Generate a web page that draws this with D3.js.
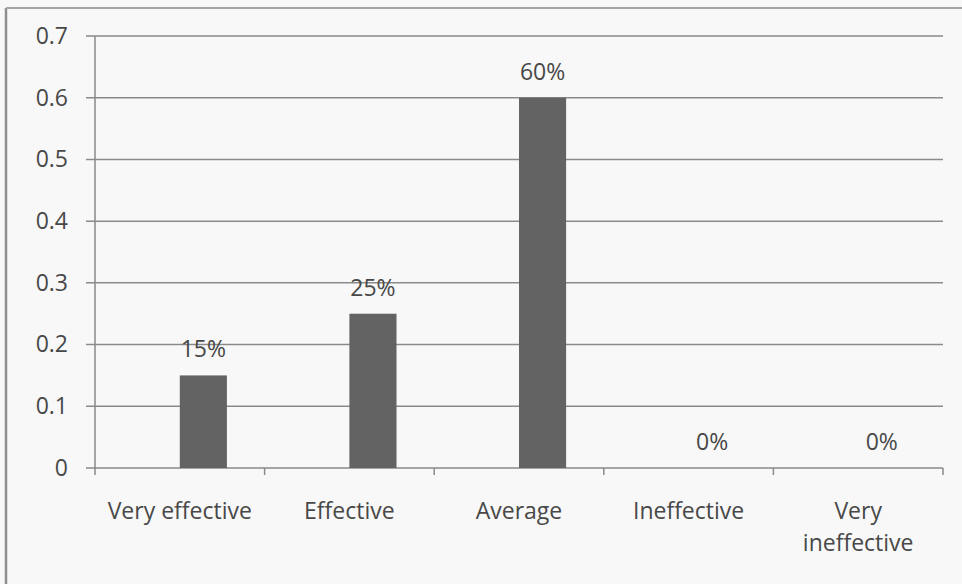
<!DOCTYPE html>
<html>
<head>
<meta charset="utf-8">
<script src="https://cdn.jsdelivr.net/npm/d3@7/dist/d3.min.js"></script>
<style>
  html, body { margin: 0; padding: 0; background: #f8f8f8; }
  svg { display: block; }
  text { font-family: "Open Sans", sans-serif; fill: #484848; }
</style>
</head>
<body>
<svg id="chart" width="962" height="584"></svg>
<script>
// Perceived effectiveness: share of respondents per rating
const categories = ["Very effective", "Effective", "Average", "Ineffective", "Very ineffective"];
const shares = [0.15, 0.25, 0.60, 0, 0];
const shareLabels = ["15%", "25%", "60%", "0%", "0%"];
const yTicks = [0, 0.1, 0.2, 0.3, 0.4, 0.5, 0.6, 0.7];

const W = 962, H = 584;
const plot = { left: 95, right: 943, top: 36, bottom: 468 };

const svg = d3.select("#chart");

// page background and chart frame (left and top edges)
svg.append("rect").attr("width", W).attr("height", H).attr("fill", "#f8f8f8");
svg.append("line").attr("x1", 6).attr("x2", 6).attr("y1", 8).attr("y2", H)
  .attr("stroke", "#8e8e8e").attr("stroke-width", 2.5);
svg.append("line").attr("x1", 6).attr("x2", W).attr("y1", 8).attr("y2", 8)
  .attr("stroke", "#a4a4a4").attr("stroke-width", 2);

const x = d3.scaleBand().domain(categories).range([plot.left, plot.right]).padding(0);
const y = d3.scaleLinear().domain([0, 0.7]).range([plot.bottom, plot.top]);

// each category holds two series slots; the values sit in the second slot
const slot = d3.scaleBand().domain(["other", "share"])
  .range([0, x.bandwidth()]).paddingInner(0).paddingOuter(0.8);

// horizontal gridlines, starting at the tick marks
svg.append("g").selectAll("line").data(yTicks).join("line")
  .attr("x1", plot.left - 9).attr("x2", plot.right)
  .attr("y1", d => y(d)).attr("y2", d => y(d))
  .attr("stroke", "#8a8a8a").attr("stroke-width", 1.5);

// value axis labels
const yAxis = d3.axisLeft(y).tickValues(yTicks).tickSize(0).tickPadding(27)
  .tickFormat(d => d === 0 ? "0" : d3.format(".1f")(d));
const yg = svg.append("g").attr("transform", `translate(${plot.left},0)`).call(yAxis);
yg.select(".domain").remove();
yg.selectAll("text").style("font-size", "23px").attr("fill", "#484848")
  .style("font-family", "'Open Sans', sans-serif");

// vertical axis line
svg.append("line").attr("x1", plot.left).attr("x2", plot.left)
  .attr("y1", y(0.7)).attr("y2", y(0) + 7)
  .attr("stroke", "#8a8a8a").attr("stroke-width", 1.5);

// category tick marks at band boundaries
const boundaries = categories.map(c => x(c)).concat([plot.right]).slice(1);
svg.append("g").selectAll("line").data(boundaries).join("line")
  .attr("x1", d => d).attr("x2", d => d)
  .attr("y1", y(0)).attr("y2", y(0) + 7)
  .attr("stroke", "#8a8a8a").attr("stroke-width", 1.5);

// bars
svg.append("g").selectAll("rect").data(categories).join("rect")
  .attr("x", (c) => x(c) + slot("share"))
  .attr("width", slot.bandwidth())
  .attr("y", (c, i) => y(shares[i]))
  .attr("height", (c, i) => y(0) - y(shares[i]))
  .attr("fill", "#636363");

// value labels
svg.append("g").selectAll("text").data(categories).join("text")
  .attr("x", c => x(c) + slot("share") + slot.bandwidth() / 2)
  .attr("y", (c, i) => y(shares[i]) - 18)
  .attr("text-anchor", "middle")
  .style("font-size", "23px")
  .text((c, i) => shareLabels[i]);

// category labels, wrapped onto two lines where needed
const wrapped = { "Very ineffective": ["Very", "ineffective"] };
svg.append("g").selectAll("text").data(categories).join("text")
  .attr("x", c => x(c) + x.bandwidth() / 2)
  .attr("y", 518.5)
  .attr("text-anchor", "middle")
  .style("font-size", "23px")
  .each(function(c) {
    const lines = wrapped[c] || [c];
    d3.select(this).selectAll("tspan").data(lines).join("tspan")
      .attr("x", x(c) + x.bandwidth() / 2)
      .attr("dy", (l, i) => i === 0 ? 0 : 32)
      .text(l => l);
  });
</script>
</body>
</html>
